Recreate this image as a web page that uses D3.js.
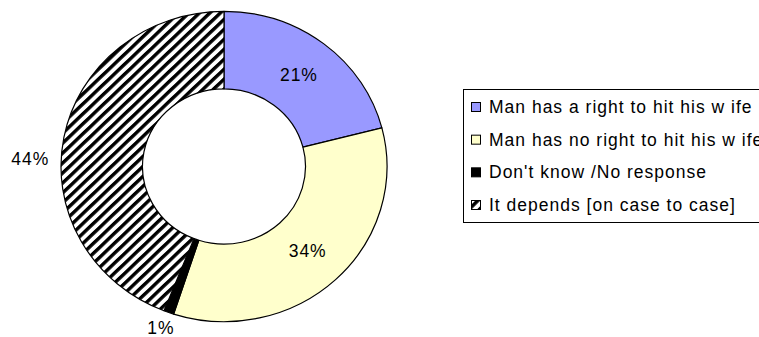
<!DOCTYPE html>
<html>
<head>
<meta charset="utf-8">
<script src="https://cdn.jsdelivr.net/npm/d3@7"></script>
<style>
  html, body { margin: 0; padding: 0; background: #fff; }
  svg { display: block; }
  text { font-family: "Liberation Sans", Arial, sans-serif; fill: #000; }
</style>
</head>
<body>
<svg id="chart" width="759" height="337"></svg>
<script>
// Survey responses: is a man entitled to hit his wife?
const categories = [
  "Man has a right to hit his w ife",
  "Man has no right to hit his w ife",
  "Don't know /No response",
  "It depends [on case to case]"
];
const values = [21, 34, 1, 44];
const labels = ["21%", "34%", "1%", "44%"];

const fills = ["#9999FF", "#FFFFCC", "#000000", "url(#hatch)"];

const svg = d3.select("#chart");

// Diagonal "/" stripe fill for the last category
const defs = svg.append("defs");
const hatch = defs.append("pattern")
  .attr("id", "hatch")
  .attr("patternUnits", "userSpaceOnUse")
  .attr("width", 7.4)
  .attr("height", 7.4)
  .attr("patternTransform", "rotate(45)");
hatch.append("rect").attr("width", 7.4).attr("height", 7.4).attr("fill", "#fff");
hatch.append("rect").attr("width", 3.5).attr("height", 7.4).attr("fill", "#000");

// Doughnut geometry (slightly squashed vertically)
const cx = 224, cy = 166.5, outerR = 163, innerR = 81.5, squash = 0.952;

const pie = d3.pie().sort(null).value(d => d);
const arcs = pie(values);
const arc = d3.arc().innerRadius(innerR).outerRadius(outerR);

const ring = svg.append("g")
  .attr("transform", `translate(${cx},${cy}) scale(1,${squash})`);

ring.selectAll("path.slice")
  .data(arcs)
  .join("path")
  .attr("class", "slice")
  .attr("d", arc)
  .attr("fill", (d, i) => fills[i])
  .attr("stroke", "#000")
  .attr("stroke-width", 1.2)
  .attr("stroke-linejoin", "round")
  .attr("vector-effect", "non-scaling-stroke");

// Percentage labels: inside the ring for wide slices, outside for the rest
const fontSize = 17.5;
const outsideR = outerR + 20;
const outsideNudge = { 2: [-1, -2.5], 3: [-14, 25] };

function labelPos(d, i) {
  const mid = (d.startAngle + d.endAngle) / 2;
  if (i < 2) {
    const [x, y] = arc.centroid(d);
    return [cx + x, cy + y * squash];
  }
  const n = outsideNudge[i] || [0, 0];
  return [
    cx + Math.sin(mid) * outsideR + n[0],
    cy - Math.cos(mid) * outsideR * squash + n[1]
  ];
}

svg.append("g").selectAll("text")
  .data(arcs)
  .join("text")
  .attr("x", (d, i) => labelPos(d, i)[0])
  .attr("y", (d, i) => labelPos(d, i)[1])
  .attr("dy", "0.35em")
  .attr("text-anchor", "middle")
  .attr("font-size", fontSize)
  .attr("letter-spacing", 1)
  .text((d, i) => labels[i]);

// Legend
const legend = svg.append("g");
legend.append("rect")
  .attr("x", 463.5).attr("y", 89.5)
  .attr("width", 320).attr("height", 133)
  .attr("fill", "#fff")
  .attr("stroke", "#000")
  .attr("stroke-width", 1);

const ly = d3.scalePoint().domain(categories).range([107, 205]);

const items = legend.selectAll("g.item")
  .data(categories)
  .join("g")
  .attr("class", "item")
  .attr("transform", d => `translate(0,${ly(d)})`);

items.append("rect")
  .attr("x", 471.5).attr("y", -4.5)
  .attr("width", 9).attr("height", 9)
  .attr("fill", (d, i) => fills[i])
  .attr("stroke", "#000")
  .attr("stroke-width", 1);

items.append("text")
  .attr("x", 489)
  .attr("dy", "0.35em")
  .attr("font-size", fontSize)
  .attr("letter-spacing", 1)
  .text(d => d);
</script>
</body>
</html>
